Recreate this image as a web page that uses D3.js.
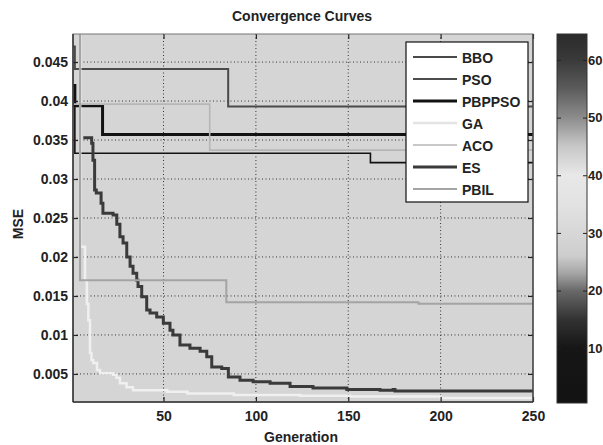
<!DOCTYPE html>
<html>
<head>
<meta charset="utf-8">
<script src="https://cdn.jsdelivr.net/npm/d3@7/dist/d3.min.js"></script>
<style>
  body { margin: 0; background: #fff; }
  text { font-family: "Liberation Sans", Arial, sans-serif; font-weight: bold; fill: #222; }
</style>
</head>
<body>
<script>
// series: [generation, MSE]
var bbo    = [[1, 0.0470], [2, 0.0441], [85, 0.0393], [250, 0.0393]];
var pso    = [[1, 0.0395], [2, 0.0333], [162, 0.0321], [250, 0.0321]];
var pbppso = [[1, 0.0420], [2, 0.0394], [17, 0.0357], [250, 0.0357]];
var ga     = [[1, 0.0520], [4.9, 0.0213], [7.5, 0.0170], [8.5, 0.0140], [9.3, 0.0119], [10.2, 0.0077],
              [11, 0.0068], [12, 0.0064], [14, 0.0055], [15.6, 0.0051], [22.7, 0.0049], [24.5, 0.0045],
              [26.4, 0.0038], [30, 0.0033], [33.5, 0.0029], [52, 0.0027], [63, 0.0025], [88, 0.0023],
              [124, 0.0022], [151, 0.0021], [200, 0.0019], [250, 0.0018]];
var aco    = [[1, 0.0396], [75, 0.0337], [250, 0.0337]];
var es     = [[6.6, 0.0353], [11.1, 0.0346], [11.8, 0.0324], [12.7, 0.0286], [13.6, 0.0282], [16.2, 0.0269],
              [17.2, 0.0256], [22.7, 0.0254], [24.7, 0.0242], [26.4, 0.0226], [28.1, 0.0218], [30.1, 0.0200],
              [31.9, 0.0188], [33.5, 0.0179], [35.5, 0.0170], [36.2, 0.0162], [38.2, 0.0149], [40.9, 0.0132],
              [42.7, 0.0128], [46.3, 0.0123], [49.9, 0.0115], [53.5, 0.0106], [55.1, 0.0100], [58.9, 0.0087],
              [64.3, 0.0083], [69.8, 0.0079], [73.4, 0.0072], [76.1, 0.0059], [81.5, 0.0057], [85.1, 0.0046],
              [91.4, 0.0042], [98.5, 0.0040], [107.7, 0.0038], [118.5, 0.0034], [130.9, 0.0032], [149.2, 0.0030],
              [167.2, 0.0029], [174.3, 0.0030], [175.3, 0.0028], [250, 0.0027]];
var pbil   = [[1, 0.0520], [4.8, 0.0170], [84, 0.0142], [188, 0.0140], [250, 0.0140]];

var names = ["BBO", "PSO", "PBPPSO", "GA", "ACO", "ES", "PBIL"];
var seriesData = [bbo, pso, pbppso, ga, aco, es, pbil];
var xTicks = [50, 100, 150, 200, 250];
var yTicks = [0.005, 0.01, 0.015, 0.02, 0.025, 0.03, 0.035, 0.04, 0.045];
var cbTicks = [10, 20, 30, 40, 50, 60];
// colour bar: level -> grey value
var cbLevels = [0.5, 10, 15, 20, 23, 26, 30, 35, 40, 45, 50, 55, 60, 64.5];
var cbGrey   = [18, 22, 50, 105, 165, 205, 215, 226, 232, 200, 140, 92, 58, 42];

// styles
var colors = ["#4a4a4a", "#121212", "#121212", "#f0f0f0", "#b6b6b6", "#3a3a3a", "#a4a4a4"];
var widths = [2, 1.6, 3, 2.5, 1.6, 3, 2];

var W = 603, H = 445;
var L = 73, R = 533, T = 34, B = 402;

var svg = d3.select("body").append("svg").attr("width", W).attr("height", H);

var x = d3.scaleLinear().domain([1, 250]).range([L, R]);
var y = d3.scaleLinear().domain([0.0014, 0.0486]).range([B, T]);

// plot background
svg.append("rect").attr("x", L).attr("y", T).attr("width", R - L).attr("height", B - T)
  .attr("fill", "#d5d5d5");

// grid
svg.selectAll(".gx").data(xTicks.slice(0, -1)).enter().append("line")
  .attr("x1", function(d){ return x(d); }).attr("x2", function(d){ return x(d); })
  .attr("y1", T).attr("y2", B)
  .attr("stroke", "#333").attr("stroke-width", 1).attr("stroke-dasharray", "1,2.5");
svg.selectAll(".gy").data(yTicks).enter().append("line")
  .attr("x1", L).attr("x2", R)
  .attr("y1", function(d){ return y(d); }).attr("y2", function(d){ return y(d); })
  .attr("stroke", "#333").attr("stroke-width", 1).attr("stroke-dasharray", "1,2.5");

// curves
svg.append("clipPath").attr("id", "clip").append("rect")
  .attr("x", L).attr("y", T).attr("width", R - L).attr("height", B - T);

var line = d3.line()
  .x(function(d){ return x(d[0]); })
  .y(function(d){ return y(d[1]); })
  .curve(d3.curveStepAfter);

var g = svg.append("g").attr("clip-path", "url(#clip)");
seriesData.forEach(function(s, i){
  g.append("path").attr("d", line(s))
    .attr("fill", "none")
    .attr("stroke", colors[i])
    .attr("stroke-width", widths[i]);
});

// axes (ticks inward)
svg.append("g").attr("transform", "translate(0," + B + ")")
  .call(d3.axisBottom(x).tickValues(xTicks).tickSizeInner(-5).tickSizeOuter(0).tickPadding(9));
svg.append("g").attr("transform", "translate(" + L + ",0)")
  .call(d3.axisLeft(y).tickValues(yTicks).tickSizeInner(-5).tickSizeOuter(0).tickPadding(5)
    .tickFormat(function(d){ return String(+d.toFixed(3)); }));
svg.append("g").attr("transform", "translate(0," + T + ")")
  .call(d3.axisTop(x).tickValues(xTicks).tickSizeInner(-5).tickSizeOuter(0).tickFormat(""));
svg.append("g").attr("transform", "translate(" + R + ",0)")
  .call(d3.axisRight(y).tickValues(yTicks).tickSizeInner(-5).tickSizeOuter(0).tickFormat(""));
svg.selectAll(".domain").remove();
svg.selectAll(".tick line").attr("stroke", "#222").attr("stroke-width", 1.2);
svg.selectAll(".tick text").style("font-size", "14px").attr("fill", "#222");

// frame
svg.append("rect").attr("x", L).attr("y", T).attr("width", R - L).attr("height", B - T)
  .attr("fill", "none").attr("stroke", "#777").attr("stroke-width", 1);
svg.append("line").attr("x1", L).attr("x2", L).attr("y1", T).attr("y2", B)
  .attr("stroke", "#333").attr("stroke-width", 1.5);
svg.append("line").attr("x1", L).attr("x2", R).attr("y1", B).attr("y2", B)
  .attr("stroke", "#333").attr("stroke-width", 1.5);
svg.append("line").attr("x1", R).attr("x2", R).attr("y1", T).attr("y2", B)
  .attr("stroke", "#333").attr("stroke-width", 1.2);

// titles
svg.append("text").attr("x", 302).attr("y", 21).attr("text-anchor", "middle")
  .style("font-size", "14px").text("Convergence Curves");
svg.append("text").attr("x", 301).attr("y", 442).attr("text-anchor", "middle")
  .style("font-size", "14px").text("Generation");
svg.append("text").attr("transform", "translate(23,224) rotate(-90)").attr("text-anchor", "middle")
  .style("font-size", "14px").text("MSE");

// legend
var lg = svg.append("g");
lg.append("rect").attr("x", 406).attr("y", 42).attr("width", 122).attr("height", 160)
  .attr("fill", "#fff").attr("stroke", "#111").attr("stroke-width", 1.2);
names.forEach(function(n, i){
  var ly = 57 + i * 22;
  lg.append("line").attr("x1", 413).attr("x2", 457).attr("y1", ly).attr("y2", ly)
    .attr("stroke", i == 3 ? "#e4e4e4" : colors[i]).attr("stroke-width", widths[i]);
  lg.append("text").attr("x", 462).attr("y", ly + 5.5).style("font-size", "14px").text(n);
});

// colour bar
var cy = d3.scaleLinear().domain([0.5, 64.5]).range([403, 34]);
var grad = svg.append("defs").append("linearGradient").attr("id", "cb")
  .attr("x1", 0).attr("y1", 1).attr("x2", 0).attr("y2", 0);
cbLevels.forEach(function(v, i){
  grad.append("stop").attr("offset", (v - 0.5) / 64)
    .attr("stop-color", d3.rgb(cbGrey[i], cbGrey[i], cbGrey[i]));
});
svg.append("rect").attr("x", 557).attr("y", 34).attr("width", 30).attr("height", 369)
  .attr("fill", "url(#cb)").attr("stroke", "#333").attr("stroke-width", 1);
var cbg = svg.append("g").attr("transform", "translate(587,0)")
  .call(d3.axisRight(cy).tickValues(cbTicks).tickSizeInner(-4).tickSizeOuter(0).tickPadding(1));
svg.append("g").attr("transform", "translate(557,0)")
  .call(d3.axisLeft(cy).tickValues(cbTicks).tickSizeInner(-4).tickSizeOuter(0).tickFormat(""));
svg.selectAll(".domain").remove();
cbg.selectAll(".tick text").style("font-size", "13px").attr("fill", "#222");
svg.selectAll(".tick line").attr("stroke", "#222");
</script>
</body>
</html>
